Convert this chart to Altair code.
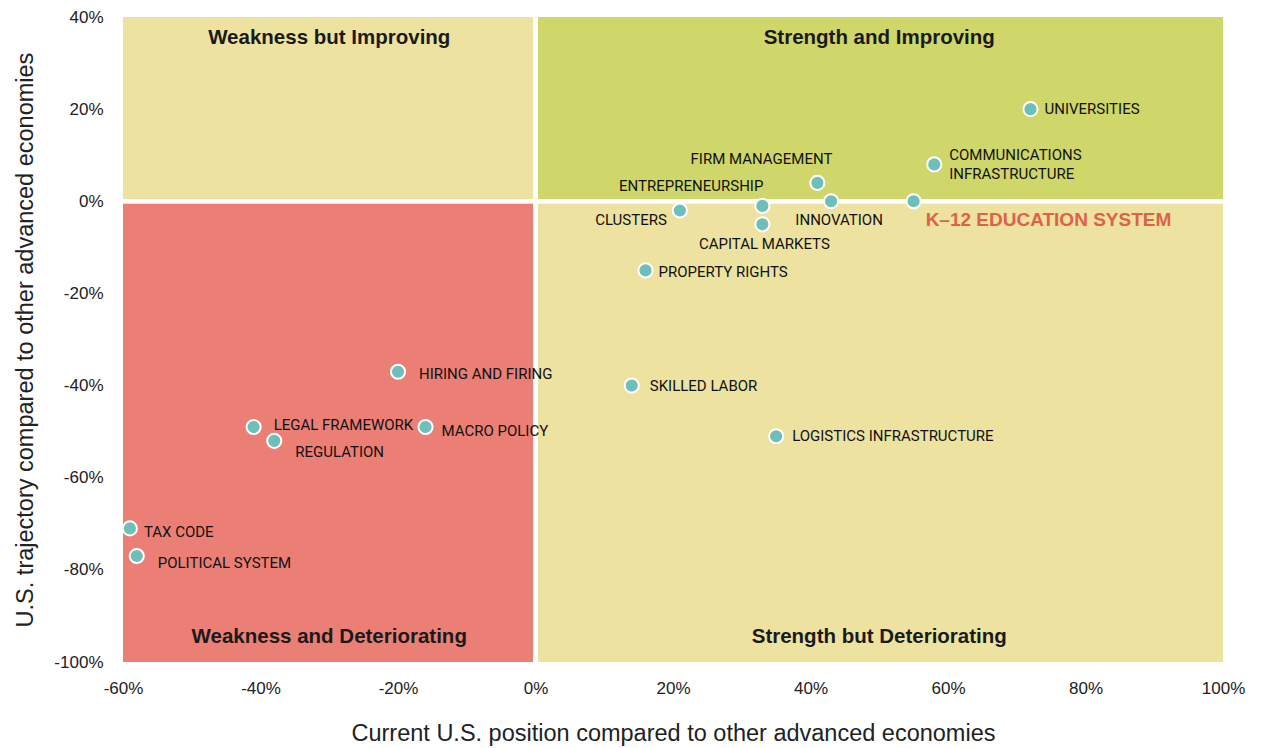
import altair as alt
import pandas as pd

# ---- data ----
names = ["UNIVERSITIES", "COMMUNICATIONS\nINFRASTRUCTURE", "FIRM MANAGEMENT", "INNOVATION",
         "K\u201312 EDUCATION SYSTEM", "ENTREPRENEURSHIP", "CAPITAL MARKETS", "CLUSTERS",
         "PROPERTY RIGHTS", "SKILLED LABOR", "LOGISTICS INFRASTRUCTURE", "HIRING AND FIRING",
         "LEGAL FRAMEWORK", "REGULATION", "MACRO POLICY", "TAX CODE", "POLITICAL SYSTEM"]
position = [72, 58, 41, 43, 55, 33, 33, 21, 16, 14, 35, -20, -41, -38, -16, -59, -58]
trajectory = [20, 8, 4, 0, 0, -1, -5, -2, -15, -40, -51, -37, -49, -52, -49, -71, -77]

# label styling (pixel offsets / alignment) per point
label_dx = [14, 15, 15, 8, 12, 1, 2, -13, 13, 18, 16, 21, 20, 21, 16, 14, 21]
label_dy = [0, -9, -24, 19, 19, -20, 20, 9, 2, 0, 0, 2, -2, 11, 4, 4, 7]
label_align = ["left", "left", "right", "center", "left", "right", "center", "right",
               "left", "left", "left", "left", "left", "left", "left", "left", "left"]

quad_names = ["Weakness but Improving", "Strength and Improving",
              "Weakness and Deteriorating", "Strength but Deteriorating"]
quad_x1 = [-60, 0, -60, 0]
quad_x2 = [0, 100, 0, 100]
quad_y1 = [0, 0, -100, -100]
quad_y2 = [40, 40, 0, 0]
quad_colors = ["#ede2a0", "#cfd66a", "#eb7f76", "#ede2a0"]

x_ticks = [-60, -40, -20, 0, 20, 40, 60, 80, 100]
y_ticks = [-100, -80, -60, -40, -20, 0, 20, 40]

pts = pd.DataFrame({"name": names, "pos": position, "traj": trajectory})
quads = pd.DataFrame({"name": quad_names, "x1": quad_x1, "x2": quad_x2,
                      "y1": quad_y1, "y2": quad_y2, "color": quad_colors,
                      "xc": [(a + b) / 2 for a, b in zip(quad_x1, quad_x2)]})

FONT = "Liberation Sans"
LFONT = "Roboto"

xscale = alt.Scale(domain=[-60, 100], nice=False, zero=False)
yscale = alt.Scale(domain=[-100, 40], nice=False, zero=False)

xaxis = alt.Axis(
    values=x_ticks, labelExpr="datum.value + '%'", grid=False, domain=False, ticks=False,
    tickSize=0, labelPadding=18, labelFontSize=17, labelFont=FONT, labelColor="#222",
    labelFlush=False, labelOverlap=False,
    title="Current U.S. position compared to other advanced economies",
    titleFont=FONT, titleFontSize=23.5, titleFontWeight="normal", titleColor="#222",
    titleX=550, titleY=71, titleBaseline="middle", titleAnchor="middle")
yaxis = alt.Axis(
    values=y_ticks, labelExpr="datum.value + '%'", grid=False, domain=False, ticks=False,
    tickSize=0, labelPadding=20, labelFontSize=17, labelFont=FONT, labelColor="#222",
    labelFlush=False, labelOverlap=False,
    title="U.S. trajectory compared to other advanced economies",
    titleFont=FONT, titleFontSize=23.5, titleFontWeight="normal", titleColor="#222",
    titleX=-98, titleY=322.5, titleAngle=-90, titleBaseline="middle", titleAlign="center")

rects = alt.Chart(quads).mark_rect().encode(
    x=alt.X("x1:Q", scale=xscale, axis=xaxis), x2="x2:Q",
    y=alt.Y("y1:Q", scale=yscale, axis=yaxis), y2="y2:Q",
    color=alt.Color("color:N", scale=None))

vrule = alt.Chart(quads).mark_rule(color="white", strokeWidth=4).encode(
    x=alt.datum(0, scale=xscale))
hrule = alt.Chart(quads).mark_rule(color="white", strokeWidth=4).encode(
    y=alt.datum(0, scale=yscale))

top_titles = alt.Chart(quads.iloc[:2]).mark_text(
    font=FONT, fontSize=20.5, fontWeight="bold", color="#1a1a1a", dy=21, baseline="middle"
).encode(x=alt.X("xc:Q", scale=xscale), y=alt.Y("y2:Q", scale=yscale), text="name:N")
bot_titles = alt.Chart(quads.iloc[2:]).mark_text(
    font=FONT, fontSize=20.5, fontWeight="bold", color="#1a1a1a", dy=-25, baseline="middle"
).encode(x=alt.X("xc:Q", scale=xscale), y=alt.Y("y1:Q", scale=yscale), text="name:N")

points = alt.Chart(pts).mark_point(
    filled=True, shape="circle", size=200, fill="#6ebeba", stroke="white",
    strokeWidth=2, opacity=1, fillOpacity=1, strokeOpacity=1
).encode(x=alt.X("pos:Q", scale=xscale), y=alt.Y("traj:Q", scale=yscale))

labels = []
for i, n in enumerate(names):
    k12 = n.startswith("K")
    labels.append(
        alt.Chart(pts).transform_filter(alt.datum.name == n).mark_text(
            font=(FONT if k12 else LFONT),
            fontSize=(19 if k12 else 15),
            fontWeight=("bold" if k12 else "normal"),
            color=("#de614c" if k12 else "#111111"),
            align=label_align[i], baseline="middle",
            dx=label_dx[i], dy=label_dy[i], lineBreak="\n", lineHeight=19
        ).encode(x=alt.X("pos:Q", scale=xscale), y=alt.Y("traj:Q", scale=yscale),
                 text="name:N")
    )

chart = alt.layer(rects, vrule, hrule, top_titles, bot_titles, points, *labels).properties(
    width=1100, height=645,
    autosize=alt.AutoSizeParams(type="none"),
    padding={"left": 115, "top": 9, "right": 30, "bottom": 85},
    background="white"
).configure_view(stroke=None)

chart.save("out.html", embed_options={"renderer": "svg", "actions": False})
